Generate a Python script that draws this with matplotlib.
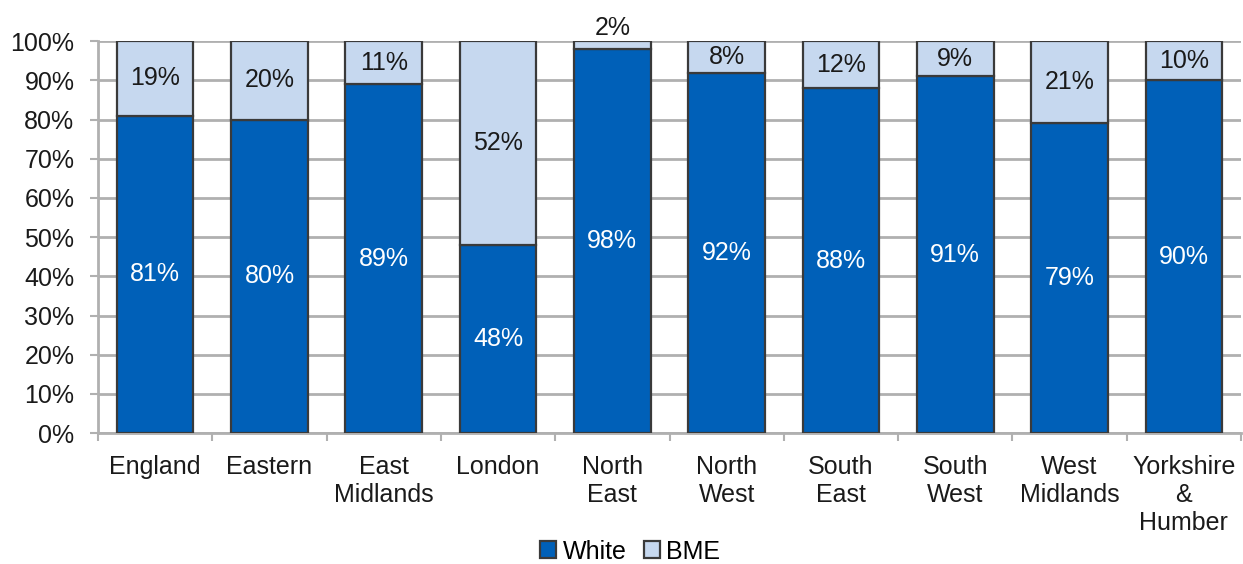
import matplotlib.pyplot as plt
import numpy as np

plt.rcParams['font.family'] = ['Liberation Sans', 'DejaVu Sans']

# data
regions = ['England', 'Eastern', 'East\nMidlands', 'London', 'North\nEast',
           'North\nWest', 'South\nEast', 'South\nWest', 'West\nMidlands',
           'Yorkshire\n&\nHumber']
white = [81, 80, 89, 48, 98, 92, 88, 91, 79, 90]
bme = [19, 20, 11, 52, 2, 8, 12, 9, 21, 10]

dark_blue = '#0060b8'
light_blue = '#c6d8ef'
grid_col = '#b0b0b0'
edge_col = '#3a3a3a'
text_col = '#1a1a1a'
fs = 18

fig = plt.figure(figsize=(12.43, 5.64), dpi=100)
ax = fig.add_axes([98 / 1243, 0.232, 1143 / 1243, 0.695])

x = np.arange(len(regions))
w_frac = np.array(white) / 100.0
b_frac = np.array(bme) / 100.0

ax.bar(x, w_frac, width=0.67, color=dark_blue, edgecolor=edge_col,
       linewidth=1.6, label='White', zorder=3)
ax.bar(x, b_frac, width=0.67, bottom=w_frac, color=light_blue,
       edgecolor=edge_col, linewidth=1.6, label='BME', zorder=3)

for i in range(len(regions)):
    ax.text(x[i], w_frac[i] / 2, f'{white[i]}%', ha='center', va='center',
            color='white', fontsize=fs, zorder=4)
    if bme[i] < 5:
        ax.text(x[i], 1.0 + 0.004, f'{bme[i]}%', ha='center', va='bottom',
                color=text_col, fontsize=fs, zorder=4)
    else:
        ax.text(x[i], w_frac[i] + b_frac[i] / 2, f'{bme[i]}%', ha='center',
                va='center', color=text_col, fontsize=fs, zorder=4)

ax.set_ylim(0, 1.0)
ax.set_xlim(-0.5, len(regions) - 0.5)
ticks = np.arange(0, 1.01, 0.1)
ax.set_yticks(ticks)
ax.set_yticklabels([f'{int(round(v * 100))}%' for v in ticks])
ax.set_xticks(x)
ax.set_xticklabels(regions, linespacing=1.2)
ax.set_xticks(np.arange(-0.5, len(regions), 1), minor=True)

ax.tick_params(axis='x', which='major', length=0, labelsize=fs, pad=16,
               labelcolor=text_col)
ax.tick_params(axis='x', which='minor', length=6, width=1.5, color=grid_col)
ax.tick_params(axis='y', length=6, width=1.5, color=grid_col, labelsize=fs,
               labelcolor=text_col, pad=11)

ax.yaxis.grid(True, color=grid_col, linewidth=2, zorder=0)
ax.set_axisbelow(True)
for s in ['top', 'right']:
    ax.spines[s].set_visible(False)
ax.spines['left'].set_color(grid_col)
ax.spines['left'].set_linewidth(2)
ax.spines['bottom'].set_color(grid_col)
ax.spines['bottom'].set_linewidth(2)

fig.legend(loc='center', bbox_to_anchor=(0.507, 0.022), ncol=2, frameon=False,
           fontsize=fs, handlelength=0.65, handleheight=0.65, handletextpad=0.25,
           columnspacing=0.7, borderpad=0.1)

fig.savefig('out.png', dpi=100)
